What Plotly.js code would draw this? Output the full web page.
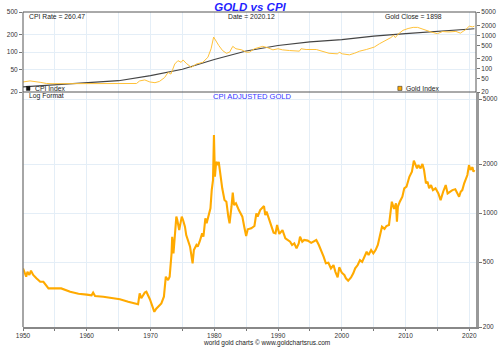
<!DOCTYPE html>
<html>
<head>
<meta charset="utf-8">
<script src="https://cdn.plot.ly/plotly-3.0.1.min.js"></script>
<style>html,body{margin:0;padding:0;background:#fff}#chart{width:500px;height:351px}</style>
</head>
<body>
<div id="chart"></div>
<script>
// CPI adjusted gold (bottom panel)
var adjYears = [1950.0,1950.5,1950.7,1951.0,1951.25,1951.6,1952.1,1952.7,1953.2,1953.4,1954.0,1954.7,1956.0,1957.4,1958.7,1960.0,1960.75,1961.0,1961.3,1962.6,1963.9,1965.2,1966.5,1967.8,1968.05,1968.3,1968.55,1969.1,1969.35,1969.9,1970.4,1970.6,1970.9,1971.4,1971.7,1972.1,1972.4,1972.75,1973.0,1973.3,1973.4,1973.6,1973.8,1974.05,1974.2,1974.5,1974.7,1974.9,1975.1,1975.4,1975.6,1976.0,1976.2,1976.6,1976.8,1977.2,1977.4,1977.7,1978.1,1978.3,1978.6,1978.8,1979.1,1979.4,1979.6,1979.8,1979.95,1980.1,1980.3,1980.6,1980.7,1981.0,1981.25,1981.6,1981.9,1982.2,1982.4,1982.7,1982.9,1983.1,1983.4,1983.85,1984.4,1984.7,1985.0,1985.25,1985.8,1986.3,1986.6,1986.8,1987.2,1987.8,1988.0,1988.2,1988.65,1988.9,1989.3,1989.6,1989.85,1990.2,1990.7,1991.15,1991.5,1991.9,1992.2,1992.55,1992.9,1993.25,1993.45,1993.8,1994.1,1994.65,1995.2,1995.6,1996.0,1996.4,1996.75,1997.15,1997.5,1997.9,1998.3,1998.7,1999.0,1999.35,1999.6,2000.0,2000.4,2000.65,2001.0,2001.45,2001.8,2002.1,2002.5,2002.85,2003.2,2003.55,2003.9,2004.2,2004.6,2004.95,2005.3,2005.65,2006.0,2006.3,2006.7,2007.0,2007.4,2007.85,2008.2,2008.5,2008.65,2008.8,2009.1,2009.5,2009.8,2010.15,2010.6,2011.0,2011.3,2011.6,2011.8,2012.0,2012.35,2012.65,2012.9,2013.2,2013.45,2013.7,2014.0,2014.3,2014.7,2015.15,2015.5,2015.9,2016.3,2016.6,2016.9,2017.35,2017.8,2018.2,2018.4,2018.65,2018.9,2019.2,2019.4,2019.7,2019.95,2020.2,2020.5,2020.65,2020.8];
var adjGold = [458,407,436,417,443,417,398,379,379,371,345,345,345,329,320,316,313,325,310,307,300,296,286,277,276,322,300,325,329,296,261,248,259,269,279,307,407,388,407,566,716,566,684,951,906,787,865,951,906,825,733,652,622,492,593,637,622,667,751,716,929,865,951,1069,1384,1595,3013,1671,2065,1971,2065,1634,1419,1202,1174,951,865,1094,1334,1120,1148,1044,951,825,723,795,806,833,997,951,1044,1105,973,1020,906,865,758,751,845,745,787,700,684,667,637,652,608,652,716,667,684,678,657,667,684,637,593,540,492,496,458,480,436,403,465,431,417,398,385,403,427,458,480,515,502,540,579,553,593,566,593,637,751,825,800,833,845,1174,1060,1148,885,1094,1174,1261,1419,1452,1671,1795,2096,1971,1882,1971,1882,2000,1838,1523,1558,1419,1486,1384,1419,1321,1202,1352,1486,1321,1352,1384,1400,1321,1261,1352,1384,1523,1595,1712,1971,1838,1914,1795,1838];

// Nominal gold (top panel, right axis)
var goldYears = [1950.0,1951.1,1952.7,1953.7,1954.7,1960.0,1965.0,1967.8,1968.3,1969.1,1969.9,1970.7,1971.4,1972.2,1972.75,1973.2,1973.8,1974.3,1974.8,1975.1,1975.6,1976.4,1977.2,1978.2,1979.0,1979.5,1979.9,1980.3,1980.7,1981.3,1981.9,1982.4,1982.9,1983.4,1984.3,1985.0,1985.5,1986.3,1987.6,1988.4,1989.2,1990.0,1990.7,1991.8,1993.35,1993.6,1994.4,1996.0,1997.0,1998.0,1999.35,1999.6,2000.1,2001.2,2002.0,2002.8,2003.85,2004.6,2005.1,2005.9,2006.4,2006.9,2007.7,2008.1,2008.4,2008.8,2009.6,2010.4,2011.2,2011.9,2012.4,2013.2,2014.0,2015.0,2015.8,2016.8,2017.9,2018.6,2019.4,2020.0,2020.5,2020.8];
var goldClose = [40,43,39,36,35.5,35.5,35.5,36,43,46,40,38,41.6,54,77,69,138,174,155,183,145,110,138,155,220,396,889,630,496,350,290,312,467,396,367,312,312,396,467,424,367,396,367,350,335,396,376,376,335,290,278,312,278,260,290,335,376,411,445,558,630,711,855,1000,855,1070,1414,1601,1729,1729,1601,1355,1261,1120,1300,1261,1310,1165,1470,1881,1790,1881];

// CPI index (top panel, left axis)
var cpiYears = [1950,1955,1960,1965,1970,1975,1980,1985,1990,1995,2000,2005,2010,2015,2020.8];
var cpiIndex = [24.5,26.8,28.8,31.5,38.8,50,74,104,130,150,165,190,210,232,255];

var xTickVals = [1950,1960,1970,1980,1990,2000,2010,2020];
var bottomTicks = [200,500,1000,2000,5000];
var cpiTicks = [20,50,100,200,500];
var goldTicks = [20,50,100,200,500,1000,2000,5000];

var gridC = '#e4eef7';
var tickFont = {family:'Liberation Sans, Arial, sans-serif', size:6.5, color:'#333'};
var L = Math.log10;
var split = 0.746;

var traces = [
  {x: adjYears, y: adjGold, xaxis:'x', yaxis:'y', type:'scatter', mode:'lines',
   line:{color:'#FFAA00', width:2.1}, hoverinfo:'skip'},
  {x: goldYears, y: goldClose, xaxis:'x2', yaxis:'y3', type:'scatter', mode:'lines',
   line:{color:'#FFC23A', width:1}, hoverinfo:'skip'},
  {x: cpiYears, y: cpiIndex, xaxis:'x2', yaxis:'y2', type:'scatter', mode:'lines',
   line:{color:'#444', width:1.2}, hoverinfo:'skip'}
];

var xCommon = {
  range:[1950, 2021.05], tickvals: xTickVals, showgrid:true, gridcolor:gridC, gridwidth:1,
  minor:{dtick:5, tick0:1950, showgrid:true, gridcolor:gridC},
  zeroline:false, tickfont: tickFont
};

var layout = {
  width:500, height:351,
  margin:{l:23, r:24, t:12, b:24},
  paper_bgcolor:'#fff', plot_bgcolor:'#fff',
  showlegend:false,
  font:{family:'Liberation Sans, Arial, sans-serif'},
  title:{text:'<b><i>GOLD vs CPI</i></b>', font:{size:11.5, color:'#1f1fff', family:'Liberation Sans, Arial, sans-serif'},
         x:0.5, xref:'container', y:1-7/351, yref:'container', yanchor:'middle'},
  xaxis: Object.assign({}, xCommon, {domain:[0,1], anchor:'y', ticks:'outside', ticklen:2, tickcolor:'#777',
    minor:{dtick:5, tick0:1950, showgrid:true, gridcolor:gridC, ticks:'outside', ticklen:2, tickcolor:'#777'},
    showline:true, linecolor:'#888', linewidth:1.5}),
  xaxis2: Object.assign({}, xCommon, {domain:[0,1], anchor:'y2', showticklabels:false, ticks:'', showline:false}),
  yaxis: {domain:[0, split], type:'log', range:[L(200), 3.743], side:'right', anchor:'x',
    tickvals: bottomTicks, ticktext: bottomTicks.map(String), ticks:'outside', ticklen:3, tickcolor:'#777',
    showgrid:true, gridcolor:gridC, zeroline:false, showline:true, linecolor:'#999', linewidth:2.5,
    tickfont: tickFont},
  yaxis2: {domain:[split, 1], type:'log', range:[L(20), L(500)], side:'left', anchor:'x2',
    tickvals: cpiTicks, ticktext: cpiTicks.map(String), ticks:'outside', ticklen:3, tickcolor:'#777',
    showgrid:true, gridcolor:gridC, zeroline:false, showline:false, tickfont: tickFont},
  yaxis3: {type:'log', range:[L(20), L(5000)], side:'right', anchor:'x2', overlaying:'y2',
    tickvals: goldTicks, ticktext: goldTicks.map(String), ticks:'outside', ticklen:3, tickcolor:'#777',
    showgrid:false, zeroline:false, showline:false, tickfont: tickFont},
  shapes: [
    {type:'rect', xref:'paper', yref:'paper', x0:0, x1:1, y0:split, y1:1, line:{color:'#555', width:1}},
    {type:'line', xref:'paper', yref:'paper', x0:0, x1:0, y0:0, y1:split, line:{color:'#888', width:1.5}},
    {type:'rect', xref:'paper', yref:'paper', x0:0.0075, x1:0.0155, y0:0.751, y1:0.764, fillcolor:'#111', line:{color:'#111', width:0.5}},
    {type:'rect', xref:'paper', yref:'paper', x0:0.8275, x1:0.8365, y0:0.751, y1:0.764, fillcolor:'#FFAA00', line:{color:'#333', width:0.6}}
  ],
  annotations: [
    {text:'CPI Rate = 260.47', xref:'paper', yref:'paper', x:0.008, y:0.987, xanchor:'left', yanchor:'middle', showarrow:false, font:{size:6.8, color:'#222'}},
    {text:'Date = 2020.12', xref:'paper', yref:'paper', x:0.505, y:0.987, xanchor:'center', yanchor:'middle', showarrow:false, font:{size:6.8, color:'#222'}},
    {text:'Gold Close = 1898', xref:'paper', yref:'paper', x:0.93, y:0.987, xanchor:'right', yanchor:'middle', showarrow:false, font:{size:6.8, color:'#222'}},
    {text:'CPI Index', xref:'paper', yref:'paper', x:0.021, y:0.758, xanchor:'left', yanchor:'middle', showarrow:false, font:{size:6.8, color:'#222'}},
    {text:'Gold Index', xref:'paper', yref:'paper', x:0.842, y:0.758, xanchor:'left', yanchor:'middle', showarrow:false, font:{size:6.8, color:'#222'}},
    {text:'Log Format', xref:'paper', yref:'paper', x:0.008, y:0.733, xanchor:'left', yanchor:'middle', showarrow:false, font:{size:6.8, color:'#222'}},
    {text:'CPI ADJUSTED GOLD', xref:'paper', yref:'paper', x:0.507, y:0.733, xanchor:'center', yanchor:'middle', showarrow:false, font:{size:7.6, color:'#3535ff'}},
    {text:'world gold charts © www.goldchartsrus.com', xref:'paper', yref:'paper', x:0.5375, y:-0.051, xanchor:'center', yanchor:'middle', showarrow:false, font:{size:6.5, color:'#222'}}
  ]
};

Plotly.newPlot('chart', traces, layout, {staticPlot:true, displayModeBar:false});
</script>
</body>
</html>
